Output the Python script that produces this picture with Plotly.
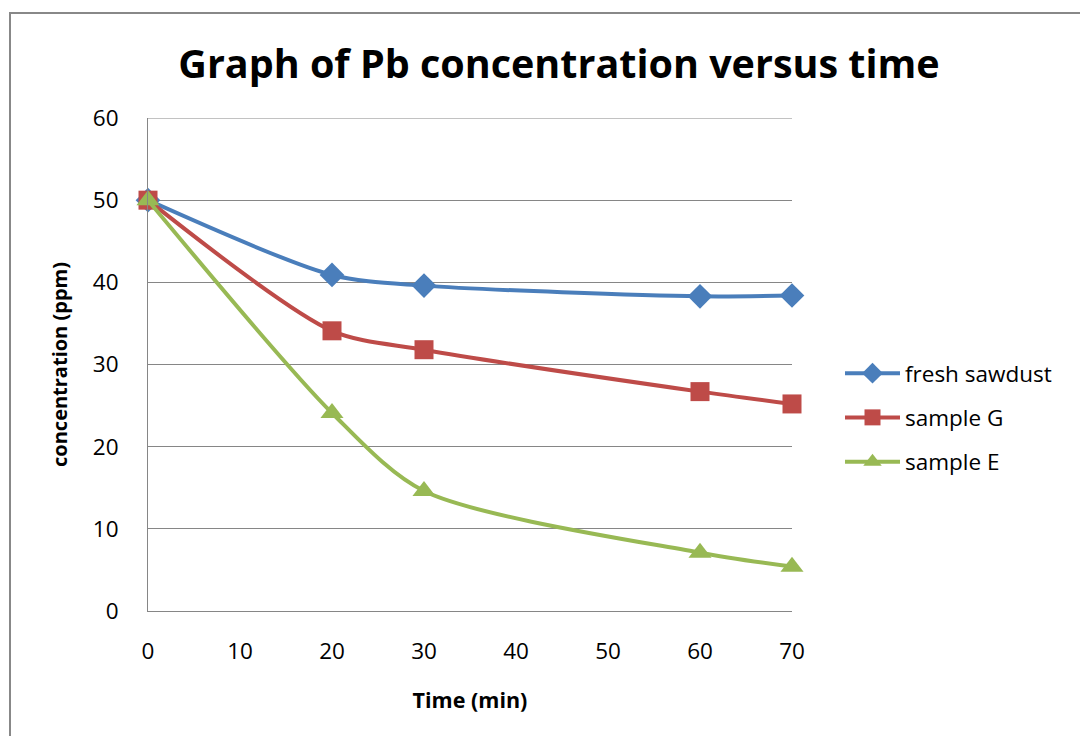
import plotly.graph_objects as go

time_min = [0, 20, 30, 60, 70]
fresh_sawdust = [50, 40.9, 39.6, 38.3, 38.4]
sample_g = [50, 34.1, 31.8, 26.7, 25.2]
sample_e = [50, 24.1, 14.6, 7.1, 5.4]

series = [
    ("fresh sawdust", fresh_sawdust, "#4A7EBB", "diamond", 19),
    ("sample G", sample_g, "#BE4B48", "square", 19),
    ("sample E", sample_e, "#98B954", "triangle-up", 20),
]

FONT = "Open Sans, sans-serif"

fig = go.Figure()
for name, vals, color, sym, size in series:
    fig.add_trace(go.Scatter(
        x=time_min, y=vals, name=name, mode="lines+markers", legendgroup=name,
        line=dict(color=color, width=4, shape="spline", smoothing=0.8),
        marker=dict(symbol=sym, size=size, color=color),
        cliponaxis=False,
    ))

L, R, T, B = 148, 1080 - 792, 118, 736 - 611
W, H = 1080 - L - R, 736 - T - B

fig.update_layout(
    width=1080, height=736,
    margin=dict(l=L, r=R, t=T, b=B),
    paper_bgcolor="white", plot_bgcolor="white",
    font=dict(family=FONT, size=22, color="#000000"),
    title=dict(text="<b>Graph of Pb concentration versus time</b>",
               x=559 / 1080, xanchor="center", y=1 - 64 / 736, yanchor="middle",
               font=dict(family=FONT, size=39.5, color="#000000")),
    showlegend=True,
    legend=dict(x=(840 - L) / W, xanchor="left", y=1 - (352 - T) / H, yanchor="top",
                font=dict(family=FONT, size=22.5), tracegroupgap=12, itemwidth=55,
                bgcolor="rgba(0,0,0,0)"),
    xaxis=dict(range=[0, 70], tickvals=[0, 10, 20, 30, 40, 50, 60, 70],
               showgrid=False, zeroline=False, showline=True, linecolor="#868686", linewidth=1,
               ticks="", ticklabelstandoff=20, tickfont=dict(size=22.5),
               title=dict(text="<b>Time (min)</b>", font=dict(size=21.5), standoff=27)),
    yaxis=dict(range=[0, 60], tickvals=[0, 10, 20, 30, 40, 50, 60],
               showgrid=True, gridcolor="#868686", gridwidth=1, zeroline=False,
               showline=True, linecolor="#868686", linewidth=1,
               ticks="", ticklabelstandoff=24, tickfont=dict(size=22.5),
               title=dict(text="<b>concentration (ppm)</b>", font=dict(size=20), standoff=19)),
)

# top gridline at 60
fig.add_shape(type="line", xref="paper", yref="y", x0=0, x1=1, y0=60, y1=60,
              line=dict(color="#868686", width=1), layer="below")

# outer chart border
fig.add_shape(type="rect", xref="paper", yref="paper",
              x0=(10 - L) / W, x1=(1090 - L) / W,
              y0=-(750 - 611) / H, y1=1 + (T - 13) / H,
              line=dict(color="#888888", width=2), fillcolor="rgba(0,0,0,0)", layer="below")

fig.write_html("out.html")
